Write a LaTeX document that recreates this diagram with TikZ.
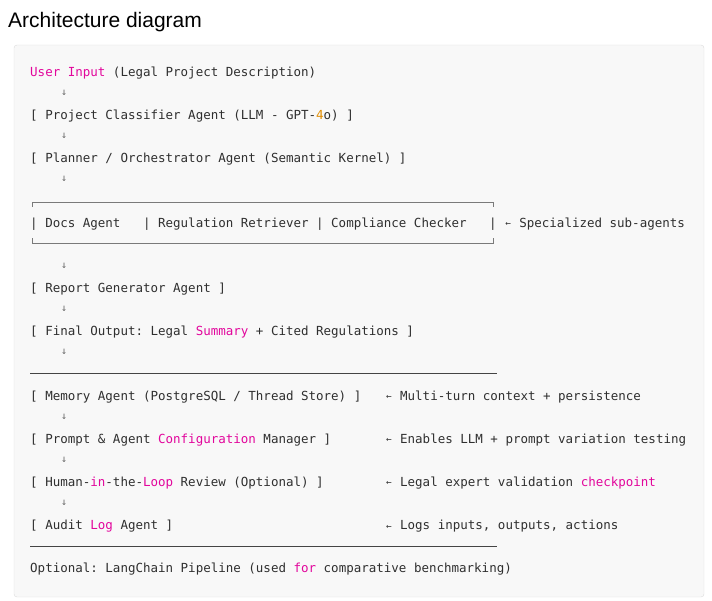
\documentclass[tikz,border=0pt]{standalone}
\usepackage{fontspec}
\setmainfont{Liberation Sans}
\setmonofont{DejaVu Sans Mono}
\usetikzlibrary{positioning}
\definecolor{codetext}{HTML}{2F2F2F}
\definecolor{kwpink}{HTML}{E2069C}
\definecolor{numorange}{HTML}{E08C00}
\definecolor{codebg}{HTML}{F8F8F8}
\definecolor{codeframe}{HTML}{DCDCDC}
\definecolor{boxline}{HTML}{7A7A7A}
\newcommand{\kw}[1]{\textcolor{kwpink}{#1}}
\newcommand{\tinyarr}[1]{\makebox[0.602em]{\raisebox{0.5pt}{\scalebox{0.75}{#1}}}}
\newcommand{\downglyph}{\makebox[0.602em]{\raisebox{2.5pt}{\scalebox{0.8}{↓}}}}
\tikzset{codeline/.style = {anchor=base west, inner sep=0, text=codetext,
                            font=\ttfamily\fontsize{12.5}{15}\selectfont}}
\tikzset{downarr/.style = {codeline, text=codetext!75}}
\tikzset{rulel/.style = {draw=codetext!90, line width=1pt}}
\tikzset{boxl/.style = {draw=boxline, line width=0.8pt}}

\begin{document}
\begin{tikzpicture}[x=1pt, y=-1pt]
        \useasboundingbox (0,0) rectangle (712,601);
        \node[anchor=base west, inner sep=0, font=\fontsize{21}{24}\selectfont]
          (title) at (8,27.5) {Architecture diagram};
        \draw[fill=codebg, draw=codeframe, rounded corners=3pt]
          (14,45) rectangle (704,597);
        % main chain
        \node[codeline] (userinput) at (30,76.5)
          {\kw{User Input} (Legal Project Description)};
        \node[downarr] (d1) at (60.2,98.1) {\downglyph};
        \node[codeline] (classifier) at (30,119.6)
          {[ Project Classifier Agent (LLM - GPT-\textcolor{numorange}{4}o) ]};
        \node[downarr] (d2) at (60.2,141.2) {\downglyph};
        \node[codeline] (planner) at (30,162.8)
          {[ Planner / Orchestrator Agent (Semantic Kernel) ]};
        \node[downarr] (d3) at (60.2,184.4) {\downglyph};
        % sub-agent box
        \draw[boxl] (32.5,207) -- (32.5,202) -- (493,202) -- (493,207);
        \draw[boxl] (32.5,238.5) -- (32.5,243.5) -- (493,243.5) -- (493,238.5);
        \node[codeline] (subagents) at (30,227.5)
          {|~Docs~Agent~~~|~Regulation~Retriever~|~Compliance~Checker~~~|~\tinyarr{←}~Specialized~sub-agents};
        \node[downarr] (d4) at (60.2,270.6) {\downglyph};
        \node[codeline] (report) at (30,292.2) {[ Report Generator Agent ]};
        \node[downarr] (d5) at (60.2,313.8) {\downglyph};
        \node[codeline] (final) at (30,335.3)
          {[ Final Output: Legal \kw{Summary} + Cited Regulations ]};
        \node[downarr] (d6) at (60.2,356.9) {\downglyph};
        \draw[rulel] (30,373.5) -- (497,373.5);
        % support agents
        \node[codeline] (memory) at (30,400.1)
          {[ Memory Agent (PostgreSQL / Thread Store) ]};
        \node[codeline] (memnote) at (384.9,400.1)
          {\tinyarr{←} Multi-turn context + persistence};
        \node[downarr] (d7) at (60.2,421.6) {\downglyph};
        \node[codeline] (prompt) at (30,443.2)
          {[ Prompt \& Agent \kw{Configuration} Manager ]};
        \node[codeline] (promptnote) at (384.9,443.2)
          {\tinyarr{←} Enables LLM + prompt variation testing};
        \node[downarr] (d8) at (60.2,464.8) {\downglyph};
        \node[codeline] (human) at (30,486.3)
          {[ Human-\kw{in}-the-\kw{Loop} Review (Optional) ]};
        \node[codeline] (humannote) at (384.9,486.3)
          {\tinyarr{←} Legal expert validation \kw{checkpoint}};
        \node[downarr] (d9) at (60.2,507.9) {\downglyph};
        \node[codeline] (audit) at (30,529.5) {[ Audit \kw{Log} Agent ]};
        \node[codeline] (auditnote) at (384.9,529.5)
          {\tinyarr{←} Logs inputs, outputs, actions};
        \draw[rulel] (30,546.5) -- (497,546.5);
        \node[codeline] (optional) at (30,572.6)
          {Optional: LangChain Pipeline (used \kw{for} comparative benchmarking)};
      \end{tikzpicture}
\end{document}
